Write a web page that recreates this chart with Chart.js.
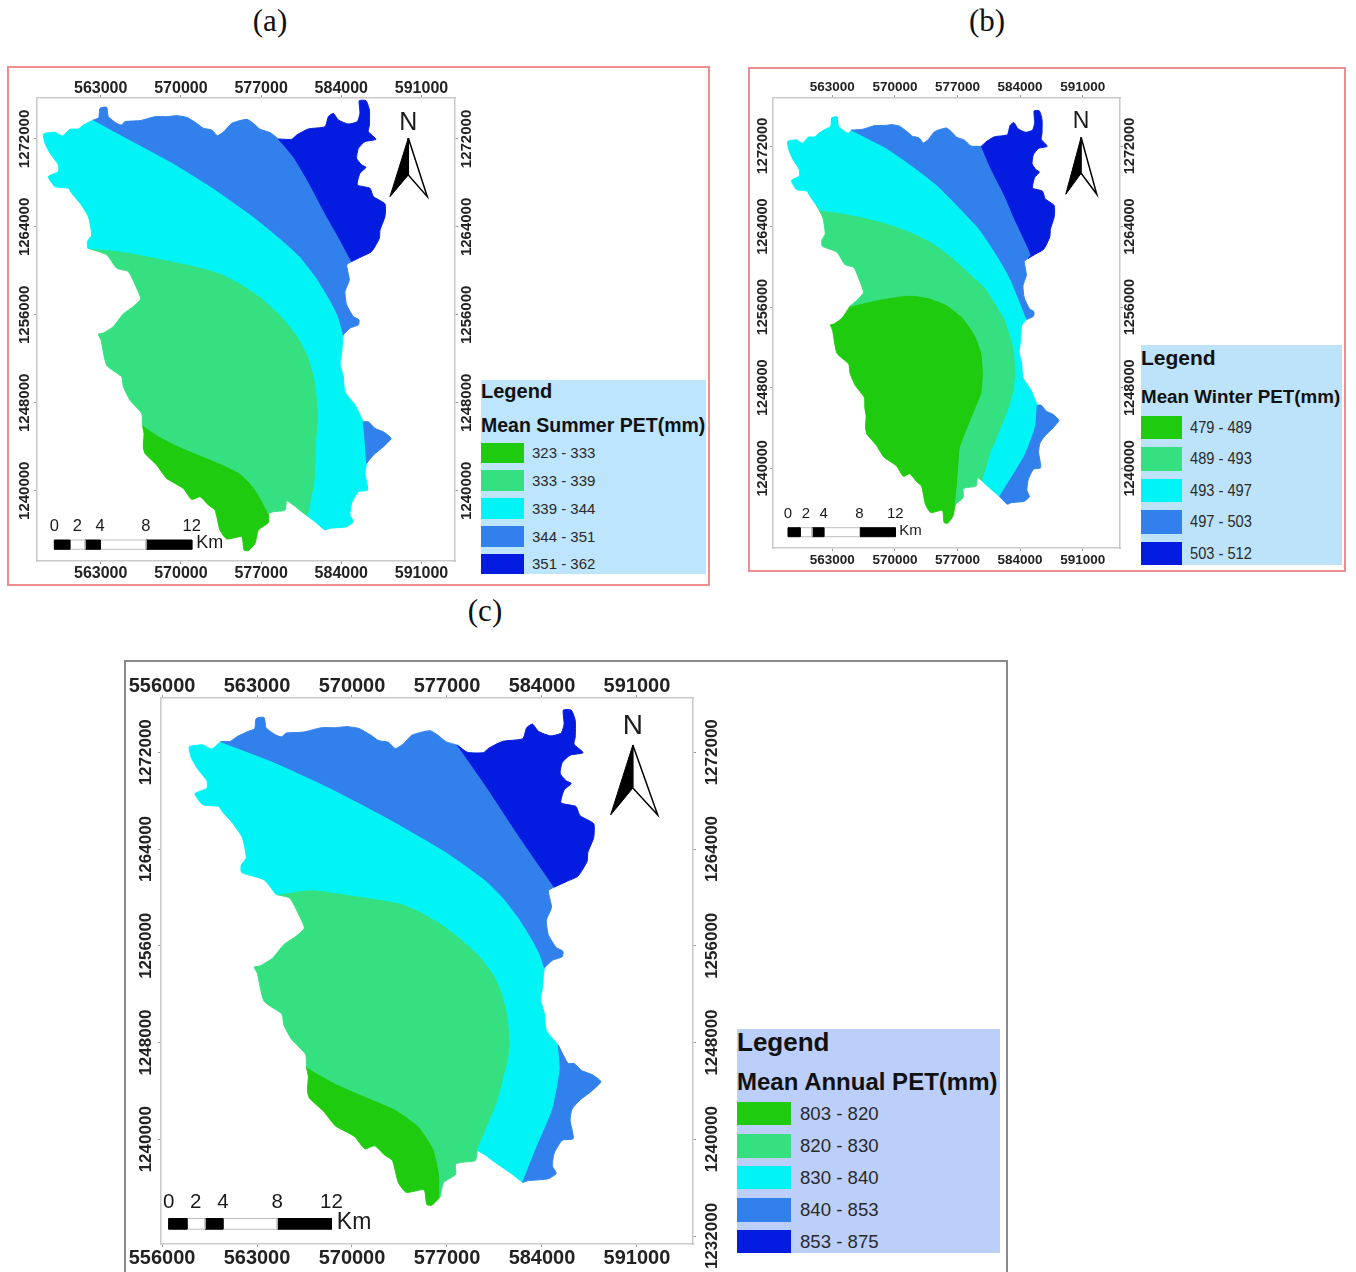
<!DOCTYPE html>
<html>
<head>
<meta charset="utf-8">
<title>Mean PET maps</title>
<script src="https://cdn.jsdelivr.net/npm/chart.js@4/dist/chart.umd.min.js"></script>
<style>
  html, body { margin: 0; padding: 0; background: #fff; }
  #page { position: relative; width: 1356px; height: 1272px; overflow: hidden; }
  #page canvas, .frame, .caption, .legend, .legend * { position: absolute; }
  .frame { box-sizing: border-box; }
  .caption { font-family: "Liberation Serif", serif; font-size: 31px; color: #111; transform: translate(-50%, -50%); white-space: nowrap; }
  .legend { font-family: "Liberation Sans", Arial, sans-serif; color: #111; }
  .legend div { white-space: nowrap; transform-origin: left center; }
</style>
</head>
<body>
<div id="page"></div>
<script>
// Basin outline, clockwise from the west corner (easting, northing in metres)
const basinOutline = [
  [558000,1272450],[558580,1272580],[559010,1272610],[559650,1272270],[560320,1272880],[561050,1272910],
  [561490,1273270],[562360,1273730],[562830,1273940],[562940,1274790],[563520,1274880],[563670,1274030],
  [564400,1273420],[564830,1273270],[565120,1273580],[566430,1273670],[567740,1274030],[568760,1274030],
  [569630,1274120],[570510,1273970],[571380,1273420],[571960,1272970],[572690,1272820],[573180,1272300],
  [573760,1272670],[574430,1273420],[575740,1273790],[576320,1273420],[576910,1272880],[577780,1272580],
  [578500,1272000],[579670,1271970],[580110,1272360],[581120,1272910],[582580,1273120],[582870,1274030],
  [583300,1274330],[583740,1273730],[584610,1273360],[585400,1273580],[585630,1274330],[585570,1275480],
  [586160,1275480],[586450,1274640],[586450,1273270],[586360,1272670],[587030,1271970],[586070,1271760],
  [585490,1271150],[585340,1270240],[585780,1269640],[586160,1269420],[585630,1268880],[585400,1267820],
  [586500,1267520],[586800,1266760],[587810,1266090],[587810,1264940],[587380,1263730],[587320,1262970],
  [586650,1261760],[585780,1261300],[584900,1260850],[584470,1260550],[584700,1259180],[584320,1258120],
  [584470,1256910],[585050,1255850],[585540,1255550],[585490,1255090],[584760,1254790],[584180,1254180],
  [584120,1253700],[584030,1252480],[583890,1251580],[584180,1250360],[584320,1249000],[585200,1247790],
  [585920,1246270],[586360,1246270],[586940,1245670],[587670,1245360],[588340,1244760],[587670,1244000],
  [586800,1243240],[586210,1242490],[586070,1241580],[586300,1240060],[585490,1239910],[584900,1238850],
  [584760,1237790],[585050,1237180],[584470,1236730],[583010,1236580],[582580,1236430],[581710,1237180],
  [581120,1237640],[580540,1238090],[579810,1238700],[579230,1239090],[579090,1238240],[578070,1238090],
  [577630,1237940],[577630,1237090],[576760,1236430],[576470,1235210],[575890,1234550],[575510,1234610],
  [575310,1235820],[574000,1235610],[573410,1236430],[572980,1238240],[572400,1238700],[571670,1239460],
  [570940,1239210],[570210,1240210],[569490,1240670],[568760,1241120],[567890,1242330],[566870,1243390],
  [566720,1244000],[566780,1245210],[566640,1245970],[566580,1247030],[565560,1248240],[564980,1249450],
  [564830,1250360],[563520,1251420],[563030,1253700],[562800,1254240],[563230,1254340],[564110,1254940],
  [564980,1256090],[565850,1256760],[566490,1257460],[566140,1258430],[565410,1259940],[564400,1260240],
  [563520,1261460],[561870,1262060],[561840,1262670],[562210,1263270],[561920,1264940],[561200,1266150],
  [560470,1267060],[560180,1267520],[559010,1267670],[558430,1268580],[559310,1269030],[559310,1269640],
  [558580,1270700],[558140,1271610]
];

// Class boundaries, each running between two points of the outline
const summerLine1 = [[566640,1245970],[568180,1244910],[569920,1244000],[571670,1243240],[573410,1242490],[575160,1241580],[576320,1240360],[577050,1239150],[577630,1237940]];
const summerLine2 = [[561870,1262060],[564400,1261850],[567310,1261300],[571670,1260340],[573410,1259790],[575160,1258880],[576900,1257660],[578650,1256000],[580110,1254180],[581120,1252210],[581700,1250090],[581940,1247970],[581990,1246460],[581850,1244610],[581710,1240970],[581120,1237640]];
const summerLine3 = [[562360,1273730],[565850,1271760],[569340,1269790],[572830,1267520],[576320,1264940],[578800,1262820],[580390,1261300],[581850,1259340],[583010,1257370],[583740,1255850],[584180,1254180]];
const summerLine4 = [[578500,1272000],[579810,1270390],[581120,1268120],[582580,1265240],[583890,1262820],[584900,1260850]];
const summerLobe = [[585920,1246270],[586070,1244610],[586210,1242490]];

const winterLine1 = [[564980,1256090],[567970,1256710],[570570,1257100],[572060,1257170],[573930,1256880],[575800,1256210],[577650,1254890],[578960,1253230],[579710,1251420],[579890,1249430],[579710,1247440],[578960,1245780],[578210,1244130],[577470,1242480],[577280,1241810],[577000,1238510],[576760,1236430]];
const winterLine2 = [[561620,1265640],[563860,1265380],[566470,1264920],[569090,1264320],[571690,1263490],[574300,1262340],[576540,1260850],[578770,1259020],[580270,1257700],[582320,1254720],[583250,1252070],[583520,1249760],[583330,1247770],[582690,1245780],[581950,1244130],[581200,1242480],[580830,1241810],[579810,1238700]];
const winterLine3 = [[565120,1273580],[569090,1271770],[572060,1269940],[574680,1268130],[577280,1265810],[579520,1263660],[581390,1261180],[582880,1258860],[584760,1254790]];
const winterLine4 = [[579670,1271970],[580640,1269940],[582320,1266970],[583440,1264650],[585230,1261180]];
const winterLobe = [[585920,1246270],[585720,1244130],[584630,1241480],[583330,1239500],[581710,1237180]];
const winterSpikeTip = [[562900,1274300],[562940,1274790],[563520,1274880],[563600,1274300]];

const annualLine1 = [[566640,1245970],[568700,1244660],[570950,1243550],[573210,1242450],[574900,1241080],[576030,1239150],[576460,1236940],[576470,1235210]];
const annualLine2 = [[564400,1260240],[567010,1260630],[569830,1260210],[573540,1259530],[575010,1258830],[576490,1257880],[577960,1256640],[579440,1255120],[580540,1253460],[581150,1251810],[581520,1249890],[581650,1247960],[581520,1246580],[580690,1243010],[579230,1239090]];
const annualLine3 = [[560320,1272880],[564190,1271220],[568420,1269030],[572650,1266550],[576880,1263790],[579800,1261450],[581150,1259940],[582380,1258150],[583360,1256360],[583860,1255260],[584180,1254180]];
const annualLine4 = [[577780,1272580],[579980,1269030],[582240,1265170],[584900,1260850]];
const annualLobe = [[585200,1247790],[585340,1245760],[584780,1242450],[583640,1239420],[582580,1236430]];

// Map furniture: north arrow as tip, left foot, notch, right foot
const summerArrow = [[589850,1272090],[588250,1266755],[589850,1268727],[591500,1266755]];
const winterArrow = [[590820,1272864],[589107,1267204],[590820,1269289],[592575,1267204]];
const annualArrow = [[590694,1272600],[589058,1266818],[590694,1269050],[592528,1266818]];

// Scale bar: west end, top and bottom northing
const summerBar = [558950,1235518,1234673];
const winterBar = [558045,1234100,1233206];
const annualBar = [556486,1233446,1232562];
const barStopsKm = [0,1.35,2.68,4,8,12];
const barLabelsKm = [0,2,4,8,12];

// Axis ticks
const eastTicks = [563000,570000,577000,584000,591000];
const eastTicksAnnual = [556000,563000,570000,577000,584000,591000];
const northTicks = [1240000,1248000,1256000,1264000,1272000];
const northTicksAnnualRight = [1232000,1240000,1248000,1256000,1264000,1272000];

// Legend
const classColors = ["#1fcb0e","#35e080","#00f4f5","#3280ec","#031ce0"];
const summerClasses = ["323 - 333","333 - 339","339 - 344","344 - 351","351 - 362"];
const winterClasses = ["479 - 489","489 - 493","493 - 497","497 - 503","503 - 512"];
const annualClasses = ["803 - 820","820 - 830","830 - 840","840 - 853","853 - 875"];

const page = document.getElementById("page");
const SANS = '"Liberation Sans", Arial, sans-serif';

function nearestIndex(p) {
  let best = 0, bestDist = Infinity;
  basinOutline.forEach((q, i) => {
    const d = (q[0] - p[0]) ** 2 + (q[1] - p[1]) ** 2;
    if (d < bestDist) { bestDist = d; best = i; }
  });
  return best;
}

// Outline points walking clockwise from one point to another
function arc(from, to) {
  const out = [];
  let i = nearestIndex(from);
  const end = nearestIndex(to);
  while (i !== end) {
    out.push(basinOutline[i]);
    i = (i + 1) % basinOutline.length;
  }
  out.push(basinOutline[end]);
  return out;
}

const last = (a) => a[a.length - 1];
const rev = (a) => a.slice().reverse();

function polyDataset(points, fillColor, lineColor, lineWidth, tension) {
  return {
    data: points.map((p) => ({ x: p[0], y: p[1] })),
    showLine: true,
    fill: "shape",
    backgroundColor: fillColor,
    borderColor: lineColor || fillColor,
    borderWidth: lineWidth === undefined ? 1 : lineWidth,
    pointRadius: 0,
    tension: tension || 0,
  };
}

// Zone edges are smooth contour lines, so these get a little curve tension
const ZONE_TENSION = 0.18;
const zoneDataset = (points, color) => polyDataset(points, color, color, 1, ZONE_TENSION);

function zoneDatasets(l1, l2, l3, l4, lobe) {
  return [
    zoneDataset([...arc(l4[0], last(l4)), ...rev(l4)], classColors[4]),
    zoneDataset([...arc(l3[0], l4[0]), ...l4, ...arc(last(l4), last(l3)), ...rev(l3)], classColors[3]),
    zoneDataset([...arc(lobe[0], last(lobe)), ...rev(lobe)], classColors[3]),
    zoneDataset([...arc(l2[0], l3[0]), ...l3, ...arc(last(l3), lobe[0]), ...lobe, ...arc(last(lobe), last(l2)), ...rev(l2)], classColors[2]),
    zoneDataset([...arc(l1[0], l2[0]), ...l2, ...arc(last(l2), last(l1)), ...rev(l1)], classColors[1]),
    zoneDataset([...arc(last(l1), l1[0]), ...l1], classColors[0]),
  ];
}

function barDatasets(bar) {
  const [west, top, bottom] = bar;
  const sets = [];
  for (let i = 0; i < barStopsKm.length - 1; i++) {
    const x0 = west + barStopsKm[i] * 1000, x1 = west + barStopsKm[i + 1] * 1000;
    const dark = i % 2 === 0;
    sets.push(polyDataset([[x0, top], [x1, top], [x1, bottom], [x0, bottom], [x0, top]], dark ? "#000" : "#fff", dark ? "#000" : "#bdbdbd", 1));
  }
  return sets;
}

function arrowDatasets(arrow) {
  const [tip, left, notch, right] = arrow;
  return [
    polyDataset([tip, right, notch, tip], "#fff", "#000", 1.5),
    polyDataset([tip, left, notch, tip], "#000", "#000", 1),
  ];
}

// Writes the scale bar numbers and the north letter in map position
function mapTextPlugin(cfg) {
  return {
    id: "mapText",
    afterDatasetsDraw(chart) {
      const { x, y } = chart.scales;
      const ctx = chart.ctx;
      const [west, top, bottom] = cfg.bar;
      ctx.save();
      ctx.fillStyle = "#1a1a1a";
      ctx.textBaseline = "middle";
      ctx.textAlign = "center";
      ctx.font = cfg.barFont + "px " + SANS;
      barLabelsKm.forEach((km) => {
        ctx.fillText(String(km), x.getPixelForValue(west + km * 1000), y.getPixelForValue(top) - cfg.barGap);
      });
      ctx.textAlign = "left";
      ctx.font = cfg.kmFont + "px " + SANS;
      ctx.fillText("Km", x.getPixelForValue(west + 12000) + cfg.kmGap, y.getPixelForValue((top + bottom) / 2) - 1.5);
      ctx.textAlign = "center";
      ctx.font = cfg.northFont + "px " + SANS;
      ctx.fillText("N", x.getPixelForValue(cfg.arrow[0][0]), y.getPixelForValue(cfg.arrow[0][1]) - cfg.northGap);
      ctx.restore();
    },
  };
}

function fixedTicks(values) {
  return (scale) => { scale.ticks = values.map((v) => ({ value: v })); };
}

function makeAxis(position, range, values, size, fontSize, padding, rotated) {
  const horizontal = position === "top" || position === "bottom";
  return {
    type: "linear",
    position: position,
    axis: horizontal ? "x" : "y",
    min: range[0],
    max: range[1],
    afterBuildTicks: fixedTicks(values),
    afterFit: (scale) => { if (horizontal) scale.height = size; else scale.width = size; },
    grid: { drawOnChartArea: false, drawTicks: true, tickLength: 3, color: "#9a9a9a" },
    border: { color: "#c9c9c9", width: 1.5 },
    ticks: {
      autoSkip: false,
      color: "#222",
      padding: padding,
      minRotation: rotated ? 90 : 0,
      maxRotation: rotated ? 90 : 0,
      crossAlign: rotated ? "center" : "near",
      font: { family: SANS, size: fontSize, weight: "bold" },
      callback: (v) => String(v),
    },
  };
}

function makeMap(cfg) {
  const canvas = document.createElement("canvas");
  const [cl, ct, cr, cb] = cfg.canvas;
  const [pl, pt, pr, pb] = cfg.plot;
  canvas.style.left = cl + "px";
  canvas.style.top = ct + "px";
  canvas.style.width = cr - cl + "px";
  canvas.style.height = cb - ct + "px";
  canvas.width = cr - cl;
  canvas.height = cb - ct;
  page.appendChild(canvas);

  return new Chart(canvas.getContext("2d"), {
    type: "scatter",
    data: { datasets: cfg.datasets },
    options: {
      responsive: false,
      animation: false,
      events: [],
      layout: { padding: 0 },
      plugins: { legend: { display: false }, tooltip: { enabled: false } },
      scales: {
        x: makeAxis("bottom", cfg.xRange, cfg.xTicksBottom, cb - pb, cfg.xFont, cfg.xPadBottom, false),
        xTop: makeAxis("top", cfg.xRange, cfg.xTicksTop, pt - ct, cfg.xFont, cfg.xPadTop, false),
        y: makeAxis("left", cfg.yRange, cfg.yTicksLeft, pl - cl, cfg.yFont, cfg.yPadLeft, true),
        yRight: makeAxis("right", cfg.yRange, cfg.yTicksRight, cr - pr, cfg.yFont, cfg.yPadRight, true),
      },
    },
    plugins: [mapTextPlugin(cfg)],
  });
}

function addFrame(l, t, r, b, color, width) {
  const d = document.createElement("div");
  d.className = "frame";
  d.style.cssText = `left:${l}px;top:${t}px;width:${r - l}px;height:${b - t}px;border:${width}px solid ${color}`;
  page.appendChild(d);
}

function addCaption(text, x, y) {
  const d = document.createElement("div");
  d.className = "caption";
  d.textContent = text;
  d.style.left = x + "px";
  d.style.top = y + "px";
  page.appendChild(d);
}

function addLegend(cfg) {
  const [l, t, r, b] = cfg.box;
  const box = document.createElement("div");
  box.className = "legend";
  box.style.cssText = `left:${l}px;top:${t}px;width:${r - l}px;height:${b - t}px;background:${cfg.bg}`;
  const put = (text, x, cy, font, color, sx) => {
    const d = document.createElement("div");
    d.textContent = text;
    d.style.cssText = `left:${x}px;top:${cy - t - 20}px;height:40px;font:${font};line-height:40px;color:${color}`;
    if (sx) d.style.transform = `scaleX(${sx})`;
    box.appendChild(d);
  };
  put("Legend", 0, cfg.titleY, `bold ${cfg.titleFont}px ${SANS}`, "#111", cfg.titleScale);
  put(cfg.heading, 0, cfg.headingY, `bold ${cfg.headingFont}px ${SANS}`, "#111", cfg.headingScale);
  cfg.classes.forEach((label, i) => {
    const [sy0, sy1] = cfg.swatches[i];
    const sw = document.createElement("div");
    sw.style.cssText = `left:0;top:${sy0 - t}px;width:${cfg.swatchW}px;height:${sy1 - sy0}px;background:${classColors[i]}`;
    box.appendChild(sw);
    put(label, cfg.labelX - l, (sy0 + sy1) / 2, `${cfg.labelFont}px ${SANS}`, "#2a2a2a", cfg.labelScale);
  });
  page.appendChild(box);
}

addFrame(7, 66, 710, 586, "#f08d8d", 2);
addFrame(748, 67, 1346, 572, "#ea8f92", 2);
addFrame(124, 660, 1008, 1274, "#8a8a8a", 2);

addCaption("(a)", 270, 21);
addCaption("(b)", 987, 21);
addCaption("(c)", 485, 611);

makeMap({
  canvas: [9, 68, 480, 585], plot: [37, 98, 455, 561],
  xRange: [557440, 593924], yRange: [1233609, 1275727],
  xTicksBottom: eastTicks, xTicksTop: eastTicks, yTicksLeft: northTicks, yTicksRight: northTicks,
  xFont: 16, yFont: 15, xPadTop: -3, xPadBottom: 0, yPadLeft: -20, yPadRight: -20,
  datasets: [...zoneDatasets(summerLine1, summerLine2, summerLine3, summerLine4, summerLobe), ...barDatasets(summerBar), ...arrowDatasets(summerArrow)],
  bar: summerBar, arrow: summerArrow, barFont: 16.5, barGap: 13.3, kmFont: 18, kmGap: 4.4, northFont: 25, northGap: 15,
});

makeMap({
  canvas: [750, 69, 1141, 570], plot: [773, 98, 1120, 548],
  xRange: [556367, 595172], yRange: [1232085, 1276767],
  xTicksBottom: eastTicks, xTicksTop: eastTicks, yTicksLeft: northTicks, yTicksRight: northTicks,
  xFont: 13.5, yFont: 14.5, xPadTop: 0, xPadBottom: 1, yPadLeft: -21, yPadRight: -21,
  datasets: [...zoneDatasets(winterLine1, winterLine2, winterLine3, winterLine4, winterLobe), polyDataset(winterSpikeTip, classColors[3]), ...barDatasets(winterBar), ...arrowDatasets(winterArrow)],
  bar: winterBar, arrow: winterArrow, barFont: 15, barGap: 13.7, kmFont: 15, kmGap: 4, northFont: 23, northGap: 15.3,
});

makeMap({
  canvas: [125, 662, 737, 1272], plot: [161, 698, 693, 1244],
  xRange: [555926, 595127], yRange: [1231339, 1276488],
  xTicksBottom: eastTicksAnnual, xTicksTop: eastTicksAnnual, yTicksLeft: northTicks, yTicksRight: northTicksAnnualRight,
  xFont: 20, yFont: 17, xPadTop: -3, xPadBottom: -1, yPadLeft: -21, yPadRight: -17,
  datasets: [...zoneDatasets(annualLine1, annualLine2, annualLine3, annualLine4, annualLobe), ...barDatasets(annualBar), ...arrowDatasets(annualArrow)],
  bar: annualBar, arrow: annualArrow, barFont: 20.5, barGap: 16.6, kmFont: 23, kmGap: 5.4, northFont: 28, northGap: 18.3,
});

addLegend({
  box: [481, 380, 706, 574], bg: "#bde5fd", heading: "Mean Summer PET(mm)", classes: summerClasses,
  titleFont: 20, titleY: 391, headingFont: 19.5, headingY: 425,
  swatches: [[443, 463], [470, 491], [498, 519], [526, 547], [554, 574]], swatchW: 43,
  labelX: 532, labelFont: 15,
});
addLegend({
  box: [1141, 345, 1342, 565], bg: "#bde3fb", heading: "Mean Winter PET(mm)", classes: winterClasses,
  titleFont: 21, titleY: 358, headingFont: 18.8, headingY: 397,
  swatches: [[416, 439], [447, 471], [479, 502], [510, 534], [542, 565]], swatchW: 41,
  labelX: 1190, labelFont: 17, labelScale: 0.86,
});
addLegend({
  box: [737, 1029, 1000, 1253], bg: "#bccffa", heading: "Mean Annual PET(mm)", classes: annualClasses,
  titleFont: 26, titleY: 1042, headingFont: 24, headingY: 1082,
  swatches: [[1102, 1125], [1134, 1158], [1166, 1189], [1198, 1222], [1230, 1253]], swatchW: 54,
  labelX: 800, labelFont: 18.6,
});
</script>
</body>
</html>
